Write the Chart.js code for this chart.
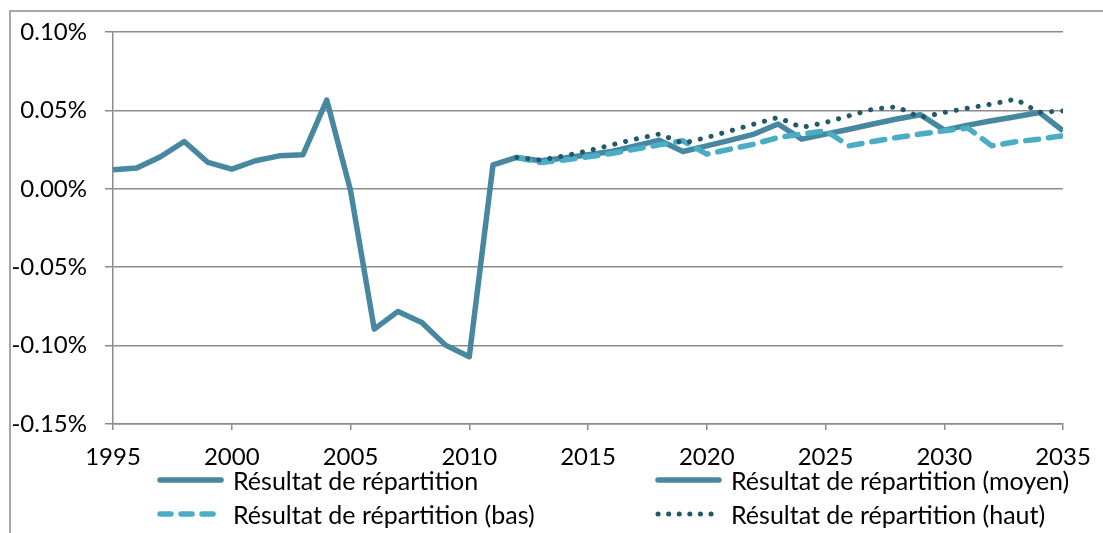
<!DOCTYPE html>
<html>
<head>
<meta charset="utf-8">
<script src="https://cdn.jsdelivr.net/npm/chart.js@4"></script>
<style>
  html, body { margin: 0; padding: 0; background: #fff; }
  #wrap { position: relative; width: 1103px; height: 533px; overflow: hidden; }
  #frame { position: absolute; left: 9px; top: 10px; width: 1200px; height: 600px;
           border-top: 2px solid #a6a6a6; border-left: 2px solid #a6a6a6; }
  #c { position: absolute; left: 0; top: 0; }
  .leg { position: absolute; font-family: Lato, sans-serif; font-size: 25px; color: #000;
         white-space: nowrap; line-height: 26px; }
  .leg svg { position: absolute; left: 0; top: 5px; }
  .leg span { position: absolute; top: 0; }
</style>
</head>
<body>
<div id="wrap">
  <div id="frame"></div>
  <canvas id="c" width="1103" height="533"></canvas>
  <div id="legend"></div>
</div>
<script>
'use strict';

// years for the history and for the projections
var histYears = [1995, 1996, 1997, 1998, 1999, 2000, 2001, 2002, 2003, 2004,
  2005, 2006, 2007, 2008, 2009, 2010, 2011, 2012];
var projYears = [2012, 2013, 2014, 2015, 2016, 2017, 2018, 2019, 2020, 2021, 2022, 2023,
  2024, 2025, 2026, 2027, 2028, 2029, 2030, 2031, 2032, 2033, 2034, 2035];

// values in %
var histValues = [0.0121, 0.0132, 0.0204, 0.0302, 0.0168, 0.0125, 0.0179, 0.0210, 0.0217, 0.0566,
  -0.0010, -0.0895, -0.0782, -0.0852, -0.0997, -0.1071, 0.0153, 0.0200];
var moyenValues = [0.0200, 0.0179, 0.0196, 0.0217, 0.0238, 0.0274, 0.0310, 0.0238, 0.0274, 0.0310,
  0.0349, 0.0413, 0.0317, 0.0349, 0.0380, 0.0413, 0.0445, 0.0472, 0.0374, 0.0406, 0.0434,
  0.0459, 0.0487, 0.0370];
var basValues = [0.0200, 0.0168, 0.0183, 0.0204, 0.0225, 0.0253, 0.0280, 0.0306, 0.0221, 0.0253,
  0.0285, 0.0327, 0.0349, 0.0370, 0.0274, 0.0302, 0.0327, 0.0349, 0.0370, 0.0387, 0.0274,
  0.0300, 0.0317, 0.0338];
var hautValues = [0.0200, 0.0183, 0.0210, 0.0242, 0.0280, 0.0317, 0.0349, 0.0291, 0.0327, 0.0370,
  0.0413, 0.0455, 0.0391, 0.0423, 0.0466, 0.0508, 0.0523, 0.0455, 0.0487, 0.0515, 0.0540,
  0.0572, 0.0487, 0.0497];

var seriesLabels = ['Résultat de répartition', 'Résultat de répartition (moyen)',
  'Résultat de répartition (bas)', 'Résultat de répartition (haut)'];
var yTicks = [0.10, 0.05, 0.00, -0.05, -0.10, -0.15];

function pts(xs, ys) {
  return xs.map(function (x, i) { return { x: x, y: ys[i] }; });
}

var mainColor = '#4787a0';
var basColor = '#4bacc6';
var hautColor = '#215968';
var gridColor = '#8c8c8c';
var fontFamily = 'Lato, sans-serif';

var datasets = [
  { label: seriesLabels[0], data: pts(histYears, histValues), borderColor: mainColor,
    borderWidth: 5.5, order: 4 },
  { label: seriesLabels[1], data: pts(projYears, moyenValues), borderColor: mainColor,
    borderWidth: 5.5, order: 3 },
  { label: seriesLabels[2], data: pts(projYears, basValues), borderColor: basColor,
    borderWidth: 5.5, borderDash: [13, 10], borderCapStyle: 'round', order: 2 },
  { label: seriesLabels[3], data: pts(projYears, hautValues), borderColor: hautColor,
    borderWidth: 5, borderDash: [0.1, 11], borderCapStyle: 'round', order: 1 }
];
datasets.forEach(function (d) {
  d.pointRadius = 0;
  d.tension = 0;
  d.fill = false;
  d.borderJoinStyle = 'round';
});

new Chart(document.getElementById('c'), {
  type: 'line',
  data: { datasets: datasets },
  options: {
    responsive: false,
    animation: false,
    layout: { padding: { top: 32, right: 40, bottom: 59, left: 0 } },
    plugins: { legend: { display: false }, tooltip: { enabled: false } },
    scales: {
      x: {
        type: 'linear', min: 1995, max: 2035,
        afterFit: function (s) { s.height = 50; s.paddingLeft = 0; s.paddingRight = 0; },
        border: { display: true, color: gridColor, width: 1.5 },
        grid: { drawOnChartArea: false, drawTicks: true, tickLength: 6, color: gridColor, lineWidth: 1.5 },
        ticks: { stepSize: 5, color: '#000', padding: 13, maxRotation: 0,
          font: { family: fontFamily, size: 24 },
          callback: function (v) { return String(v); } }
      },
      y: {
        min: -0.15, max: 0.10,
        afterFit: function (s) { s.width = 113; s.paddingTop = 0; s.paddingBottom = 0; },
        afterBuildTicks: function (s) { s.ticks = yTicks.map(function (v) { return { value: v }; }); },
        border: { display: true, color: gridColor, width: 1.5 },
        grid: { color: gridColor, lineWidth: 1.5, tickLength: 8 },
        ticks: { color: '#000', padding: 18,
          font: { family: fontFamily, size: 24 },
          callback: function (v) { return v.toFixed(2) + '%'; } }
      }
    }
  }
});

// legend in two columns, like the original
var legendPos = [[157, 467], [655, 467], [157, 501], [655, 501]];
var legend = document.getElementById('legend');
datasets.forEach(function (d, i) {
  var item = document.createElement('div');
  item.className = 'leg';
  item.style.left = legendPos[i][0] + 'px';
  item.style.top = legendPos[i][1] + 'px';
  var dash = '';
  if (d.borderDash) {
    dash = ' stroke-dasharray="' + (i === 2 ? '11,10' : '0.1,10.5') + '"';
  }
  item.innerHTML = '<svg width="72" height="16"><line x1="3" y1="8" x2="64" y2="8" stroke="' +
    d.borderColor + '" stroke-width="' + d.borderWidth + '" stroke-linecap="round"' + dash +
    '/></svg><span style="left:76px">' + d.label + '</span>';
  legend.appendChild(item);
});
</script>
</body>
</html>
